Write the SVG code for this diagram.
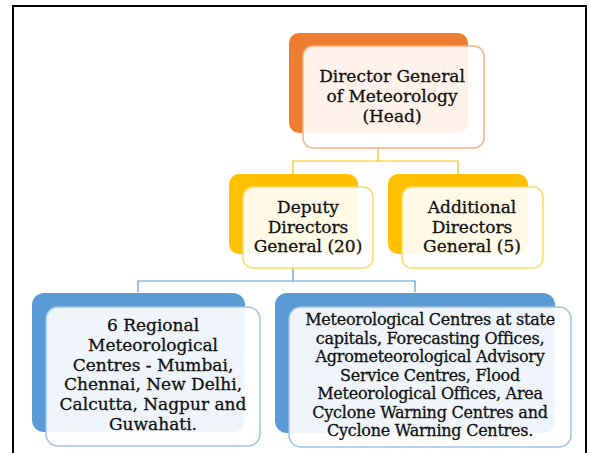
<svg xmlns="http://www.w3.org/2000/svg" width="590" height="453" viewBox="0 0 590 453">
<style>
.t{font-family:"DejaVu Serif","Liberation Serif",serif;font-size:17px;fill:#111111;stroke:#111111;stroke-width:0.3;text-anchor:middle}
.s{font-size:16px;letter-spacing:-0.25px}
.front{fill:#ffffff;fill-opacity:0.9;stroke-width:1.5}
.conn{fill:none;stroke-width:1.2}
</style>
<rect x="0" y="0" width="590" height="453" fill="#ffffff"/>
<path d="M13,460 V6 H586 V460" fill="none" stroke="#000" stroke-width="2"/>
<g id="connectors">
<path class="conn" stroke="#FFC000" d="M378,135 V161 M293,174 V161 H458 V174"/>
<path class="conn" stroke="#5B9BD5" d="M293,262 V281 M138,292 V281 H415 V292"/>
</g>
<g id="director-general">
<rect x="289" y="33" width="179" height="100" rx="10" fill="#ED7D31"/>
<rect class="front" x="303" y="46" width="181" height="102" rx="10" stroke="#F4B183"/>
<text class="t" x="392" y="82">Director General</text>
<text class="t" x="392" y="102">of Meteorology</text>
<text class="t" x="392" y="122">(Head)</text>
</g>
<g id="deputy">
<rect x="229" y="174" width="129" height="80" rx="10" fill="#FFC000"/>
<rect class="front" x="243" y="187" width="130" height="81" rx="10" stroke="#FFD966"/>
<text class="t" x="308" y="213">Deputy</text>
<text class="t" x="308" y="233">Directors</text>
<text class="t" x="308" y="252">General (20)</text>
</g>
<g id="additional">
<rect x="388" y="174" width="140" height="80" rx="10" fill="#FFC000"/>
<rect class="front" x="402" y="187" width="141" height="81" rx="10" stroke="#FFD966"/>
<text class="t" x="472" y="213">Additional</text>
<text class="t" x="472" y="233">Directors</text>
<text class="t" x="472" y="252">General (5)</text>
</g>
<g id="regional">
<rect x="32" y="293" width="213" height="139" rx="12" fill="#5B9BD5"/>
<rect class="front" x="46" y="307" width="214" height="139" rx="12" stroke="#9DC3E6"/>
<text class="t" x="153" y="331">6 Regional</text>
<text class="t" x="153" y="351">Meteorological</text>
<text class="t" x="153" y="371">Centres - Mumbai,</text>
<text class="t" x="153" y="390">Chennai, New Delhi,</text>
<text class="t" x="153" y="410">Calcutta, Nagpur and</text>
<text class="t" x="153" y="430">Guwahati.</text>
</g>
<g id="centres">
<rect x="275" y="293" width="280" height="140" rx="12" fill="#5B9BD5"/>
<rect class="front" x="289" y="307" width="282" height="140" rx="12" stroke="#9DC3E6"/>
<text class="t s" x="430" y="325">Meteorological Centres at state</text>
<text class="t s" x="430" y="343.5">capitals, Forecasting Offices,</text>
<text class="t s" x="430" y="362">Agrometeorological Advisory</text>
<text class="t s" x="430" y="380.5">Service Centres, Flood</text>
<text class="t s" x="430" y="399">Meteorological Offices, Area</text>
<text class="t s" x="430" y="417.5">Cyclone Warning Centres and</text>
<text class="t s" x="430" y="436">Cyclone Warning Centres.</text>
</g>
</svg>
